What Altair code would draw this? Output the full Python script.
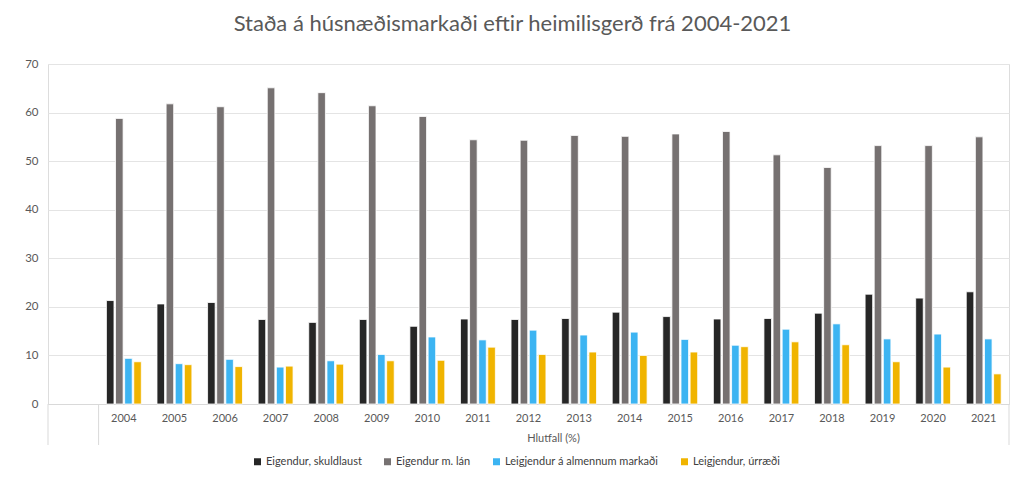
import altair as alt
import pandas as pd

years = [str(y) for y in range(2004, 2022)]
series = ["Eigendur, skuldlaust", "Eigendur m. lán",
          "Leigjendur á almennum markaði", "Leigjendur, úrræði"]
colors = ["#262626", "#767171", "#3CB4F2", "#F0B400"]

skuldlaust = [21.3, 20.6, 20.9, 17.4, 16.8, 17.4, 16.0, 17.5, 17.4, 17.6,
              18.9, 18.0, 17.5, 17.6, 18.7, 22.6, 21.8, 23.1]
med_lan = [58.8, 61.8, 61.2, 65.1, 64.1, 61.4, 59.2, 54.4, 54.3, 55.3,
           55.1, 55.6, 56.1, 51.3, 48.7, 53.2, 53.2, 55.0]
almennum = [9.4, 8.3, 9.2, 7.6, 8.9, 10.2, 13.8, 13.2, 15.2, 14.2,
            14.8, 13.3, 12.1, 15.4, 16.5, 13.4, 14.4, 13.4]
urraedi = [8.7, 8.1, 7.7, 7.8, 8.2, 8.9, 9.0, 11.7, 10.2, 10.7,
           10.0, 10.7, 11.8, 12.8, 12.2, 8.7, 7.6, 6.2]

rows = []
for name, vals in zip(series, [skuldlaust, med_lan, almennum, urraedi]):
    for y, v in zip(years, vals):
        rows.append({"ar": y, "flokkur": name, "gildi": v})
df = pd.DataFrame(rows)

x_domain = [" "] + years
W, H = 961, 340
FONT = "Lato"
TXT = "#595959"
LINE = "#d9d9d9"

bars = alt.Chart(df).mark_bar(stroke="white", strokeWidth=0.8).encode(
    x=alt.X("ar:N", scale=alt.Scale(domain=x_domain, paddingInner=0.31, paddingOuter=0.155),
            axis=alt.Axis(title="Hlutfall (%)", labelAngle=0, ticks=False, domain=True,
                          domainColor=LINE, labelPadding=8, labelFontSize=11,
                          labelColor=TXT, labelFont=FONT, titleFont=FONT,
                          titleFontSize=11, titleFontWeight="normal", titleColor=TXT,
                          titleX=505, titleY=34, titleBaseline="middle",
                          titleAnchor="start", titleAlign="center")),
    xOffset=alt.XOffset("flokkur:N", sort=series,
                        scale=alt.Scale(domain=series, paddingInner=0.17)),
    y=alt.Y("gildi:Q", scale=alt.Scale(domain=[0, 70]),
            axis=alt.Axis(title=None, values=[0, 10, 20, 30, 40, 50, 60, 70],
                          ticks=False, domain=False, grid=True, gridColor="#e4e4e4",
                          labelPadding=10, labelFontSize=11.5, labelColor=TXT,
                          labelFont=FONT, minExtent=30, maxExtent=30)),
    color=alt.Color("flokkur:N", sort=series,
                    scale=alt.Scale(domain=series, range=colors),
                    legend=alt.Legend(title=None, orient="none", direction="horizontal",
                                      legendX=204, legendY=392, symbolType="square",
                                      symbolSize=49, symbolStrokeWidth=0,
                                      labelFontSize=11, labelColor="#404040",
                                      labelFont=FONT, labelOffset=3, columnPadding=20,
                                      labelLimit=300)),
)

sep_left = alt.Chart(pd.DataFrame({"k": [0]})).mark_rule(color=LINE, strokeWidth=1).encode(
    x=alt.value(0), y=alt.value(H), y2=alt.value(H + 41))
sep_mid = alt.Chart(pd.DataFrame({"k": [0]})).mark_rule(color=LINE, strokeWidth=1).encode(
    x=alt.value(W / 19), y=alt.value(H), y2=alt.value(H + 41))
sep_right = alt.Chart(pd.DataFrame({"k": [0]})).mark_rule(color=LINE, strokeWidth=1).encode(
    x=alt.value(W), y=alt.value(H), y2=alt.value(H + 41))

chart = alt.layer(bars, sep_left, sep_mid, sep_right).properties(
    width=W, height=H,
    title=alt.TitleParams("Staða á húsnæðismarkaði eftir heimilisgerð frá 2004-2021",
                          font=FONT, fontSize=22, fontWeight="normal", color=TXT,
                          anchor="middle", frame="group", dx=-16, offset=22),
    autosize=alt.AutoSizeParams(type="none"),
    padding={"left": 40, "top": 56, "right": 7, "bottom": 67},
).configure_view(stroke=None).configure(background="white")

chart.save("out.html", embed_options={"renderer": "svg", "actions": False})
